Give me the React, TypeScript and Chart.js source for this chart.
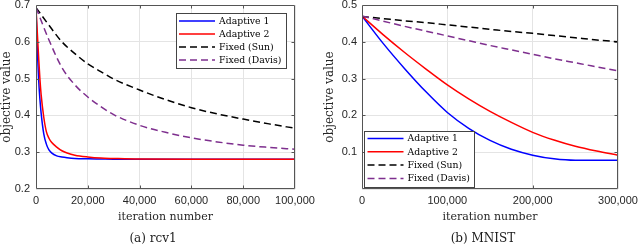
import React, { useEffect, useRef } from "react";
import { Chart, registerables } from "chart.js";

Chart.register(...registerables);

// ---------- data: (a) rcv1 ----------
const rcv1AdaptiveIter = [0, 500, 1000, 1500, 2000, 3000, 4000, 5000, 6000, 8000, 10000, 12000, 15000, 20000, 25000, 30000, 40000, 60000, 80000, 100000];
const rcv1Adaptive1 = [0.693, 0.58, 0.5, 0.445, 0.405, 0.35, 0.322, 0.306, 0.298, 0.29, 0.287, 0.285, 0.283, 0.282, 0.2815, 0.281, 0.281, 0.281, 0.281, 0.281];
const rcv1Adaptive2 = [0.693, 0.625, 0.56, 0.5, 0.455, 0.395, 0.356, 0.338, 0.327, 0.314, 0.304, 0.298, 0.292, 0.287, 0.284, 0.283, 0.2815, 0.281, 0.281, 0.281];
const rcv1FixedIter = [0, 5000, 10000, 15000, 20000, 25000, 30000, 40000, 50000, 60000, 70000, 80000, 90000, 100000];
const rcv1FixedSun = [0.693, 0.645, 0.6, 0.568, 0.54, 0.519, 0.499, 0.469, 0.443, 0.421, 0.404, 0.39, 0.377, 0.365];
const rcv1FixedDavis = [0.693, 0.605, 0.53, 0.483, 0.45, 0.424, 0.402, 0.373, 0.354, 0.339, 0.328, 0.319, 0.313, 0.308];
const rcv1XTicks = [0, 20000, 40000, 60000, 80000, 100000];
const rcv1YTicks = [0.2, 0.3, 0.4, 0.5, 0.6, 0.7];

// ---------- data: (b) MNIST ----------
const mnistIter = [0, 25000, 50000, 75000, 100000, 125000, 150000, 175000, 200000, 225000, 250000, 275000, 300000];
const mnistAdaptive1 = [0.47, 0.395, 0.327, 0.264, 0.208, 0.165, 0.132, 0.108, 0.092, 0.082, 0.078, 0.078, 0.078];
const mnistAdaptive2 = [0.47, 0.419, 0.371, 0.326, 0.283, 0.245, 0.211, 0.181, 0.154, 0.133, 0.116, 0.103, 0.092];
const mnistFixedSun = [0.469, 0.463, 0.457, 0.452, 0.446, 0.44, 0.434, 0.428, 0.423, 0.417, 0.411, 0.405, 0.4];
const mnistFixedDavis = [0.47, 0.456, 0.442, 0.429, 0.416, 0.403, 0.39, 0.378, 0.366, 0.354, 0.343, 0.332, 0.321];
const mnistXTicks = [0, 100000, 200000, 300000];
const mnistYTicks = [0, 0.1, 0.2, 0.3, 0.4, 0.5];

const seriesLabels = ["Adaptive 1", "Adaptive 2", "Fixed (Sun)", "Fixed (Davis)"];
const captions = ["(a) rcv1", "(b) MNIST"];
const xTitle = "iteration number";
const yTitle = "objective value";

const SANS = '"Liberation Sans", Arial, sans-serif';
const SERIF = '"DejaVu Serif", serif';
const TEXT = "#262626";

const toPts = (xs: number[], ys: number[]) => xs.map((x, i) => ({ x, y: ys[i] }));

const framePlugin = {
  id: "frameBox",
  afterDatasetsDraw(chart: any) {
    const { ctx, chartArea: a, scales } = chart;
    const L = Math.round(a.left) + 0.5;
    const R = Math.round(a.right) - 0.5;
    const T = Math.round(a.top) + 0.5;
    const B = Math.round(a.bottom) - 0.5;
    ctx.save();
    ctx.strokeStyle = "#555555";
    ctx.lineWidth = 1;
    ctx.beginPath();
    ctx.rect(L, T, R - L, B - T);
    ctx.stroke();
    const tl = 3;
    ctx.beginPath();
    scales.x.ticks.forEach((t: any) => {
      const px = Math.round(scales.x.getPixelForValue(t.value)) + 0.5;
      if (px <= L + 1 || px >= R - 1) return;
      ctx.moveTo(px, B); ctx.lineTo(px, B - tl);
      ctx.moveTo(px, T); ctx.lineTo(px, T + tl);
    });
    scales.y.ticks.forEach((t: any) => {
      const py = Math.round(scales.y.getPixelForValue(t.value)) + 0.5;
      if (py <= T + 1 || py >= B - 1) return;
      ctx.moveTo(L, py); ctx.lineTo(L + tl, py);
      ctx.moveTo(R, py); ctx.lineTo(R - tl, py);
    });
    ctx.stroke();
    ctx.restore();
  },
};

const legendPlugin = {
  id: "insetLegend",
  afterDraw(chart: any, _args: any, opts: any) {
    const { ctx, chartArea: a } = chart;
    const w = opts.width, h = opts.height;
    const left = opts.anchor === "topright" ? a.right - opts.dx - w : a.left + opts.dx;
    const top = opts.anchor === "topright" ? a.top + opts.dy : a.bottom - opts.dy - h;
    ctx.save();
    ctx.fillStyle = "#ffffff";
    ctx.fillRect(left, top, w, h);
    ctx.strokeStyle = "#444444";
    ctx.lineWidth = 1;
    ctx.strokeRect(Math.round(left) + 0.5, Math.round(top) + 0.5, Math.round(w), Math.round(h));
    ctx.font = `${opts.fontSize}px ${SERIF}`;
    ctx.textBaseline = "middle";
    ctx.textAlign = "left";
    chart.data.datasets.forEach((ds: any, i: number) => {
      const y = top + opts.firstRow + i * opts.rowHeight;
      ctx.beginPath();
      ctx.strokeStyle = ds.borderColor;
      ctx.lineWidth = ds.borderWidth;
      ctx.setLineDash(ds.borderDash || []);
      ctx.moveTo(left + opts.lineStart, y);
      ctx.lineTo(left + opts.lineStart + opts.lineLength, y);
      ctx.stroke();
      ctx.setLineDash([]);
      ctx.fillStyle = "#000000";
      ctx.fillText(ds.label, left + opts.textStart, y + 0.5);
    });
    ctx.restore();
  },
};

function makeConfig(p: {
  sets: { x: number[]; y: number[] }[];
  xMax: number; xStep: number; yMin: number; yMax: number;
  yWidth: number; padRight: number; yTitlePad: number; yTickPad: number;
  legend: any; hideZero: boolean;
}) {
  const colors = ["#0000ff", "#ff0000", "#000000", "#7e2f8e"];
  const dashes = [[], [], [7, 4], [7, 4]];
  const orders = [4, 3, 2, 1];
  return {
    type: "line",
    data: {
      datasets: p.sets.map((s, i) => ({
        label: seriesLabels[i],
        data: toPts(s.x, s.y),
        borderColor: colors[i],
        borderWidth: 1.5,
        borderDash: dashes[i],
        pointRadius: 0,
        fill: false,
        cubicInterpolationMode: "monotone",
        order: orders[i],
      })),
    },
    options: {
      responsive: false,
      animation: false,
      devicePixelRatio: 1,
      events: [],
      layout: { padding: { left: 0, right: p.padRight, top: 5, bottom: 20 } },
      plugins: {
        legend: { display: false },
        tooltip: { enabled: false },
        insetLegend: p.legend,
      },
      scales: {
        x: {
          type: "linear",
          min: 0,
          max: p.xMax,
          afterBuildTicks: (s: any) => {
            s.ticks = (p.xMax === 100000 ? rcv1XTicks : mnistXTicks).map((v) => ({ value: v }));
          },
          ticks: {
            autoSkip: false,
            maxRotation: 0,
            padding: 5,
            color: TEXT,
            font: { family: SANS, size: 11 },
            callback: (v: number) => Number(v).toLocaleString("en-US"),
          },
          grid: { color: "#e4e4e4", lineWidth: 1, drawTicks: false },
          border: { display: false },
          title: {
            display: true,
            text: xTitle,
            color: TEXT,
            padding: { top: 0, bottom: 0 },
            font: { family: SERIF, size: 11 },
          },
          afterFit: (s: any) => {
            s.height = 35;
            s.paddingLeft = 0;
            s.paddingRight = 0;
          },
        },
        y: {
          type: "linear",
          min: p.yMin,
          max: p.yMax,
          afterBuildTicks: (s: any) => {
            s.ticks = (p.hideZero ? mnistYTicks : rcv1YTicks).map((v) => ({ value: v }));
          },
          ticks: {
            autoSkip: false,
            padding: p.yTickPad,
            color: TEXT,
            font: { family: SANS, size: 11 },
            callback: (v: number) => (p.hideZero && Math.abs(v) < 1e-9 ? "" : Number(v).toFixed(1)),
          },
          grid: { color: "#e4e4e4", lineWidth: 1, drawTicks: false },
          border: { display: false },
          title: {
            display: true,
            text: yTitle,
            color: TEXT,
            padding: { top: p.yTitlePad, bottom: 0 },
            font: { family: SERIF, size: 12 },
          },
          afterFit: (s: any) => {
            s.width = p.yWidth;
            s.paddingTop = 0;
            s.paddingBottom = 0;
          },
        },
      },
    },
    plugins: [framePlugin, legendPlugin],
  } as any;
}

function Panel({ config }: { config: any }) {
  const ref = useRef<HTMLCanvasElement | null>(null);
  useEffect(() => {
    if (!ref.current) return;
    const chart = new Chart(ref.current, config);
    return () => chart.destroy();
  }, [config]);
  return <canvas ref={ref} width={320} height={244} style={{ display: "block", width: 320, height: 244 }} />;
}

const leftConfig = makeConfig({
  sets: [
    { x: rcv1AdaptiveIter, y: rcv1Adaptive1 },
    { x: rcv1AdaptiveIter, y: rcv1Adaptive2 },
    { x: rcv1FixedIter, y: rcv1FixedSun },
    { x: rcv1FixedIter, y: rcv1FixedDavis },
  ],
  xMax: 100000, xStep: 20000, yMin: 0.2, yMax: 0.7,
  yWidth: 36, padRight: 25, yTitlePad: -0.5, yTickPad: 6,
  hideZero: false,
  legend: { anchor: "topright", dx: 9, dy: 8, width: 110, height: 55, firstRow: 8, rowHeight: 13, lineStart: 3, lineLength: 36, textStart: 43, fontSize: 9.3 },
});

const rightConfig = makeConfig({
  sets: [
    { x: mnistIter, y: mnistAdaptive1 },
    { x: mnistIter, y: mnistAdaptive2 },
    { x: mnistIter, y: mnistFixedSun },
    { x: mnistIter, y: mnistFixedDavis },
  ],
  xMax: 300000, xStep: 100000, yMin: 0, yMax: 0.5,
  yWidth: 42, padRight: 22, yTitlePad: 3, yTickPad: 5,
  hideZero: true,
  legend: { anchor: "bottomleft", dx: 2, dy: 2, width: 110, height: 56, firstRow: 7.5, rowHeight: 13.3, lineStart: 3.5, lineLength: 36, textStart: 43.5, fontSize: 9.3 },
});

export default function App() {
  const capStyle = (cx: number): React.CSSProperties => ({
    position: "absolute",
    left: cx,
    top: 238,
    transform: "translate(-50%, -50%)",
    fontFamily: SERIF,
    fontSize: 12,
    lineHeight: "14px",
    whiteSpace: "nowrap",
    color: "#1a1a1a",
  });
  return (
    <div style={{ position: "absolute", left: 0, top: 0, width: 640, height: 244, background: "#ffffff", overflow: "hidden" }}>
      <div style={{ position: "absolute", left: 0, top: 0 }}>
        <Panel config={leftConfig} />
      </div>
      <div style={{ position: "absolute", left: 320, top: 0 }}>
        <Panel config={rightConfig} />
      </div>
      <div style={capStyle(153)}>{captions[0]}</div>
      <div style={capStyle(483)}>{captions[1]}</div>
    </div>
  );
}
